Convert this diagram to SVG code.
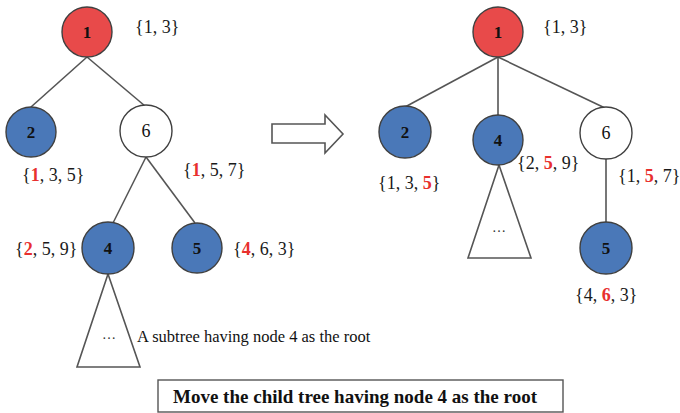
<svg xmlns="http://www.w3.org/2000/svg" width="680" height="413" viewBox="0 0 680 413">
  <style>
    .edge { stroke: #555; stroke-width: 1.6; fill: none; }
    .node { stroke: #404040; stroke-width: 1.4; }
    .red { fill: #e84a4a; }
    .blue { fill: #4a78b8; }
    .white { fill: #ffffff; }
    .nl { font-family: "Liberation Serif", "Times New Roman", serif; font-size: 17px; font-weight: bold; fill: #111; text-anchor: middle; }
    .nl6 { font-family: "Liberation Serif", "Times New Roman", serif; font-size: 18px; fill: #111; text-anchor: middle; }
    .set { font-family: "Liberation Serif", "Times New Roman", serif; font-size: 18px; fill: #1a1a1a; }
    .hl { fill: #e8302e; font-weight: bold; }
    .dots { font-family: "Liberation Serif", serif; font-size: 14px; fill: #333; text-anchor: middle; }
    .note { font-family: "Liberation Serif", "Times New Roman", serif; font-size: 16.5px; fill: #111; }
    .cap { font-family: "Liberation Serif", "Times New Roman", serif; font-size: 19px; font-weight: bold; fill: #111; }
  </style>
  <rect width="680" height="413" fill="#ffffff"/>

  <!-- tree links -->
  <g id="connectors">
    <!-- before -->
    <line class="edge" x1="87" y1="57" x2="31" y2="107"/>
    <line class="edge" x1="87" y1="57" x2="145" y2="106"/>
    <line class="edge" x1="146" y1="157" x2="113" y2="223"/>
    <line class="edge" x1="146" y1="157" x2="195" y2="223"/>
    <polygon class="edge" points="108,274 77,367 140,367"/>
    <!-- after -->
    <line class="edge" x1="498" y1="57" x2="405" y2="107"/>
    <line class="edge" x1="498" y1="57" x2="498" y2="115"/>
    <line class="edge" x1="498" y1="57" x2="605" y2="108"/>
    <line class="edge" x1="606" y1="159" x2="606" y2="223"/>
    <polygon class="edge" points="499,165 468,258 531,258"/>
  </g>

  <!-- left tree -->
  <g id="l-node-1">
    <circle class="node red" cx="87" cy="32" r="25"/>
    <text class="nl" x="87" y="38">1</text>
    <text class="set" x="135" y="33">{1, 3}</text>
  </g>
  <g id="l-node-2">
    <circle class="node blue" cx="31" cy="132" r="25"/>
    <text class="nl" x="31" y="138">2</text>
    <text class="set" x="22" y="181">{<tspan class="hl">1</tspan>, 3, 5}</text>
  </g>
  <g id="l-node-6">
    <circle class="node white" cx="146" cy="131" r="26"/>
    <text class="nl6" x="146" y="137">6</text>
    <text class="set" x="183" y="176">{<tspan class="hl">1</tspan>, 5, 7}</text>
  </g>
  <g id="l-node-4">
    <circle class="node blue" cx="108" cy="248" r="26"/>
    <text class="nl" x="108" y="254">4</text>
    <text class="set" x="15" y="255">{<tspan class="hl">2</tspan>, 5, 9}</text>
  </g>
  <g id="l-node-5">
    <circle class="node blue" cx="197" cy="248" r="25"/>
    <text class="nl" x="197" y="254">5</text>
    <text class="set" x="233" y="255">{<tspan class="hl">4</tspan>, 6, 3}</text>
  </g>
  <g id="l-subtree">
    <text class="dots" x="109" y="339">…</text>
    <text class="note" x="137" y="342">A subtree having node 4 as the root</text>
  </g>

  <!-- transition arrow -->
  <g id="arrow">
    <polygon points="272,124 325,124 325,115 343,134 325,153 325,143 272,143" fill="#ffffff" stroke="#555" stroke-width="1.6"/>
  </g>

  <!-- right tree -->
  <g id="r-node-1">
    <circle class="node red" cx="498" cy="32" r="25"/>
    <text class="nl" x="498" y="38">1</text>
    <text class="set" x="543" y="33">{1, 3}</text>
  </g>
  <g id="r-node-2">
    <circle class="node blue" cx="405" cy="132" r="26"/>
    <text class="nl" x="405" y="138">2</text>
    <text class="set" x="378" y="189">{1, 3, <tspan class="hl">5</tspan>}</text>
  </g>
  <g id="r-node-4">
    <circle class="node blue" cx="498" cy="140" r="25"/>
    <text class="nl" x="498" y="146">4</text>
    <text class="set" x="517" y="169">{2, <tspan class="hl">5</tspan>, 9}</text>
  </g>
  <g id="r-node-6">
    <circle class="node white" cx="606" cy="133" r="26"/>
    <text class="nl6" x="606" y="139">6</text>
    <text class="set" x="618" y="182">{1, <tspan class="hl">5</tspan>, 7}</text>
  </g>
  <g id="r-node-5">
    <circle class="node blue" cx="606" cy="248" r="26"/>
    <text class="nl" x="606" y="254">5</text>
    <text class="set" x="575" y="301">{4, <tspan class="hl">6</tspan>, 3}</text>
  </g>
  <g id="r-subtree">
    <text class="dots" x="499" y="232">…</text>
  </g>

  <!-- caption -->
  <g id="caption">
    <rect x="158" y="380" width="405" height="32" fill="#ffffff" stroke="#555" stroke-width="1.4"/>
    <text class="cap" x="173" y="403">Move the child tree having node 4 as the root</text>
  </g>
</svg>
